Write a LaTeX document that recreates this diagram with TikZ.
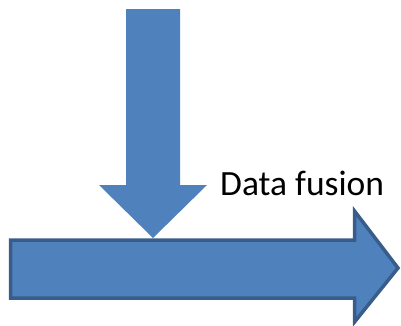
\documentclass[tikz,border=0pt]{standalone}
\usepackage{fontspec}
\setmainfont{Carlito}
\definecolor{arrowfill}{HTML}{4F81BD}
\definecolor{arrowline}{HTML}{385D8A}
\tikzset{
  fatarrow/.style={fill=arrowfill},
  busarrow/.style={fill=arrowfill, draw=arrowline, line width=3.5pt, line join=miter},
  caption/.style={inner sep=0pt, anchor=base west, font=\fontsize{35.5}{42}\selectfont}
}
\begin{document}
\begin{tikzpicture}[x=1pt, y=-1pt]
    \useasboundingbox (0,0) rectangle (401,325);
    % the long arrow at the bottom
    \draw[busarrow] (10.5,240) -- (354.5,240) -- (354.5,211) -- (398,268)
        -- (354.5,322) -- (354.5,298) -- (10.5,298) -- cycle;
    % the arrow coming down into it
    \fill[fatarrow] (126,9) -- (180,9) -- (180,185) -- (207,185) -- (153,238)
        -- (99,185) -- (126,185) -- cycle;
    % the label
    \node[caption] (fusion) at (220,195) {Data fusion};
\end{tikzpicture}
\end{document}
